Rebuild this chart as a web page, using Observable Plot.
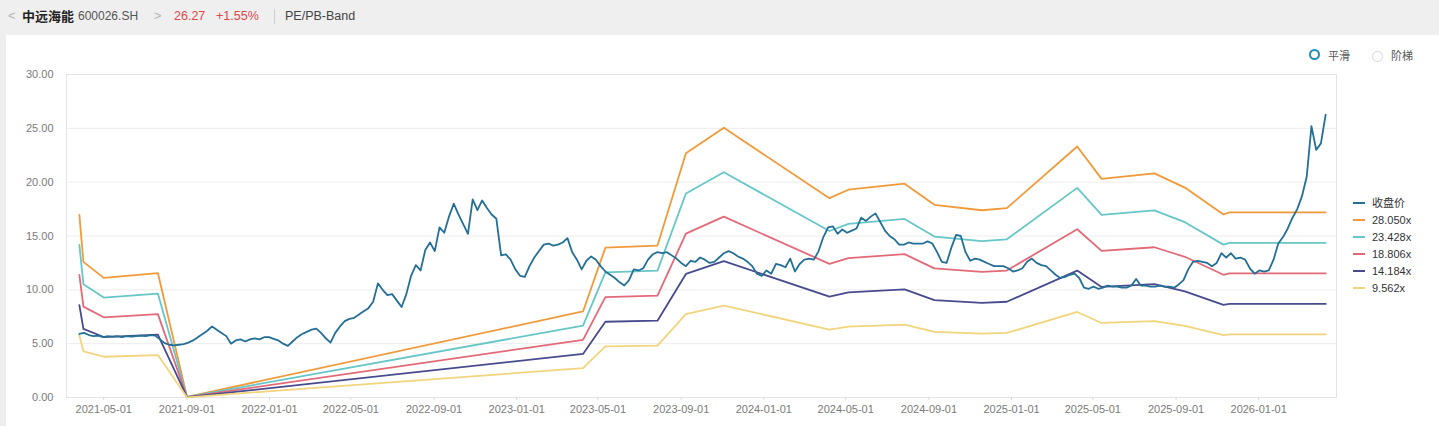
<!DOCTYPE html>
<html>
<head>
<meta charset="utf-8">
<script src="https://cdn.jsdelivr.net/npm/d3@7"></script>
<script src="https://cdn.jsdelivr.net/npm/@observablehq/plot@0.6"></script>
<style>
  html, body { margin: 0; padding: 0; }
  body { width: 1439px; height: 426px; overflow: hidden; background: #eeeeee; position: relative;
         font-family: "Liberation Sans", "Noto Sans CJK SC", sans-serif; }
  #header { position: absolute; left: 0; top: 0; width: 1439px; height: 35px; background: #efefef; }
  #header span { position: absolute; top: 8px; font-size: 13px; line-height: 16px; white-space: nowrap; }
  #card { position: absolute; left: 6px; top: 35px; right: 0; bottom: 0; background: #ffffff; }
  #chart { position: absolute; left: 0; top: 35px; }
  #toggle { position: absolute; top: 47px; left: 1309px; font-size: 11px; color: #555;
            font-family: "Noto Sans CJK SC", sans-serif; }
  #toggle .opt { position: absolute; top: 0; white-space: nowrap; line-height: 16px; }
  #toggle .dot { position: absolute; top: 3px; width: 7px; height: 7px; border-radius: 50%; box-sizing: content-box; }
  #legend { position: absolute; left: 1353px; top: 195px; font-size: 11px; color: #333;
            font-family: "Liberation Sans", "Noto Sans CJK SC", sans-serif; }
  #legend .item { height: 17px; line-height: 17px; white-space: nowrap; }
  #legend .sw { display: inline-block; width: 12px; height: 2px; vertical-align: middle; margin-right: 7px; position: relative; top: -1px; }
</style>
</head>
<body>
<div id="header"></div>
<div id="card"></div>
<div id="chart"></div>
<div id="toggle"></div>
<div id="legend"></div>
<script>
// ---------------- data ----------------
const seriesNames = ["收盘价", "28.050x", "23.428x", "18.806x", "14.184x", "9.562x"];
const multiples = [28.050, 23.428, 18.806, 14.184, 9.562];
const seriesColors = ["#236f96", "#f09a3a", "#66c6c8", "#e26a78", "#474b8e", "#f1d47c"];

// EPS knots (band = multiple × EPS)
const epsDates = ["2021-03-26","2021-04-01","2021-05-01","2021-07-20","2021-09-01","2023-04-09",
  "2023-05-12","2023-07-28","2023-09-08","2023-11-03","2024-04-07","2024-05-05","2024-07-27",
  "2024-09-09","2024-11-18","2024-12-25","2025-04-08","2025-05-14","2025-07-31","2025-09-14",
  "2025-11-10","2025-11-19","2026-04-10"];
const epsValues = [0.605,0.449,0.396,0.412,0.002,0.285,
  0.496,0.503,0.809,0.893,0.660,0.688,0.708,
  0.638,0.620,0.627,0.831,0.724,0.742,0.695,
  0.606,0.613,0.613];

// weekly closing price, starting 2021-03-26
const priceStart = "2021-03-26";
const priceWeekly = [
  5.9,6.0,5.8,5.7,5.75,5.6,5.7,5.65,5.7,5.6,5.7,5.65,5.7,5.75,5.7,5.8,5.75,5.4,5.05,4.9,
  4.85,4.9,4.95,5.1,5.3,5.6,5.9,6.2,6.6,6.3,6.0,5.7,5.0,5.3,5.4,5.2,5.4,5.5,5.4,5.6,
  5.6,5.45,5.3,5.0,4.8,5.2,5.6,5.9,6.1,6.3,6.4,6.0,5.5,5.1,6.0,6.6,7.1,7.3,7.4,7.7,
  8.0,8.3,8.9,10.6,10.0,9.5,9.6,9.0,8.4,9.6,11.3,12.3,11.8,13.7,14.4,13.6,15.8,15.3,16.8,18.0,
  17.0,16.1,15.2,18.4,17.4,18.3,17.6,17.0,16.6,13.2,13.3,12.8,11.9,11.3,11.2,12.2,13.0,13.6,14.2,14.3,
  14.1,14.2,14.4,14.8,13.5,12.8,11.9,12.7,13.1,12.8,12.2,11.7,11.4,11.1,10.7,10.4,10.9,11.9,11.8,12.0,
  12.8,13.3,13.5,13.4,13.5,13.2,12.9,12.5,12.2,12.7,12.6,13.0,12.8,12.5,12.6,13.0,13.4,13.6,13.4,13.1,
  12.9,12.6,12.2,11.5,11.3,11.8,11.5,12.4,12.3,12.1,12.9,11.7,12.4,12.8,12.9,12.8,13.6,14.9,15.8,15.9,
  15.2,15.6,15.3,15.5,15.7,16.7,16.4,16.8,17.1,16.3,15.5,15.0,14.7,14.2,14.2,14.4,14.3,14.3,14.3,14.5,
  14.3,13.5,12.6,12.5,13.9,15.1,15.0,13.5,12.7,12.9,12.8,12.6,12.4,12.2,12.2,12.2,12.0,11.7,11.8,12.0,
  12.6,12.9,12.5,12.3,12.2,11.8,11.4,11.1,11.2,11.4,11.5,11.1,10.2,10.1,10.3,10.1,10.2,10.4,10.3,10.3,
  10.2,10.2,10.4,11.0,10.4,10.4,10.3,10.3,10.4,10.3,10.3,10.2,10.5,10.9,11.9,12.6,12.7,12.6,12.5,12.2,
  12.5,13.4,13.0,13.4,12.9,13.0,12.8,12.0,11.5,11.8,11.7,11.8,12.8,14.3,14.9,15.7,16.7,17.5,18.7,20.5,
  25.2,23.0,23.6,26.27
];

const xTicks = ["2021-05-01","2021-09-01","2022-01-01","2022-05-01","2022-09-01","2023-01-01",
  "2023-05-01","2023-09-01","2024-01-01","2024-05-01","2024-09-01","2025-01-01","2025-05-01",
  "2025-09-01","2026-01-01"];
const yTicks = [0, 5, 10, 15, 20, 25, 30];
const xDomain = ["2021-03-07", "2026-04-26"];
const yDomain = [0, 30];

// header texts
const headerTexts = [
  {t: "<", x: 8, c: "#b5b5b5", w: "normal", s: 13},
  {t: "中远海能", x: 22, c: "#222", w: "bold", s: 13},
  {t: "600026.SH", x: 78, c: "#555", w: "normal", s: 12},
  {t: ">", x: 154, c: "#b5b5b5", w: "normal", s: 13},
  {t: "26.27", x: 174, c: "#e0474c", w: "normal", s: 12.5},
  {t: "+1.55%", x: 216, c: "#e0474c", w: "normal", s: 12.5},
  {t: "PE/PB-Band", x: 285, c: "#444", w: "normal", s: 12.5}
];
const toggleOptions = [{t: "平滑", on: true}, {t: "阶梯", on: false}];

// ---------------- build ----------------
const parse = d3.utcParse("%Y-%m-%d");
const price = priceWeekly.map((v, i) => ({date: d3.utcDay.offset(parse(priceStart), 7 * i), value: v, series: seriesNames[0]}));
const bands = multiples.flatMap((m, j) => epsDates.map((d, i) => ({date: parse(d), value: m * epsValues[i], series: seriesNames[j + 1]})));

const chart = Plot.plot({
  width: 1439,
  height: 391,
  marginTop: 39,
  marginBottom: 29,
  marginLeft: 66,
  marginRight: 103,
  style: {fontFamily: '"Liberation Sans", "Noto Sans CJK SC", sans-serif', fontSize: "11px", color: "#777", background: "transparent"},
  x: {type: "utc", domain: xDomain.map(parse)},
  y: {domain: yDomain},
  color: {domain: seriesNames, range: seriesColors},
  marks: [
    Plot.gridY(yTicks, {stroke: "#ececec", strokeOpacity: 1}),
    Plot.frame({stroke: "#e3e3e3"}),
    ...seriesNames.slice(1).map(name =>
      Plot.line(bands.filter(d => d.series === name), {x: "date", y: "value", stroke: "series", strokeWidth: 1.8, curve: "linear"})),
    Plot.line(price, {x: "date", y: "value", stroke: "series", strokeWidth: 1.8, curve: "linear"}),
    Plot.axisX(xTicks.map(parse), {tickFormat: d3.utcFormat("%Y-%m-%d"), tickSize: 3, tickPadding: 5, stroke: "#d8d8d8", fill: "#7a7a7a", label: null}),
    Plot.axisY(yTicks, {tickFormat: d => d.toFixed(2), tickSize: 0, tickPadding: 13, fill: "#7a7a7a", label: null})
  ]
});
document.getElementById("chart").appendChild(chart);

// header
const header = document.getElementById("header");
headerTexts.forEach(h => {
  const s = document.createElement("span");
  s.textContent = h.t;
  s.style.left = h.x + "px";
  s.style.color = h.c;
  s.style.fontWeight = h.w;
  s.style.fontSize = h.s + "px";
  if (h.t === "中远海能") s.style.fontFamily = '"Noto Sans CJK SC", sans-serif';
  header.appendChild(s);
});
const divider = document.createElement("div");
divider.style.cssText = "position:absolute;left:274px;top:9px;width:1px;height:15px;background:#cfcfcf;";
header.appendChild(divider);

// toggle
const toggle = document.getElementById("toggle");
toggleOptions.forEach((o, i) => {
  const off = i * 63;
  const dot = document.createElement("div");
  dot.className = "dot";
  dot.style.left = off + "px";
  dot.style.border = o.on ? "2.5px solid #1d8db9" : "1px solid #d6d6d6";
  dot.style.top = o.on ? "2px" : "3.5px";
  if (!o.on) { dot.style.width = "9px"; dot.style.height = "9px"; }
  toggle.appendChild(dot);
  const t = document.createElement("div");
  t.className = "opt";
  t.style.left = (off + 19) + "px";
  t.textContent = o.t;
  toggle.appendChild(t);
});

// legend
const legend = document.getElementById("legend");
seriesNames.forEach((n, i) => {
  const item = document.createElement("div");
  item.className = "item";
  const sw = document.createElement("span");
  sw.className = "sw";
  sw.style.background = seriesColors[i];
  item.appendChild(sw);
  item.appendChild(document.createTextNode(n));
  legend.appendChild(item);
});
</script>
</body>
</html>
